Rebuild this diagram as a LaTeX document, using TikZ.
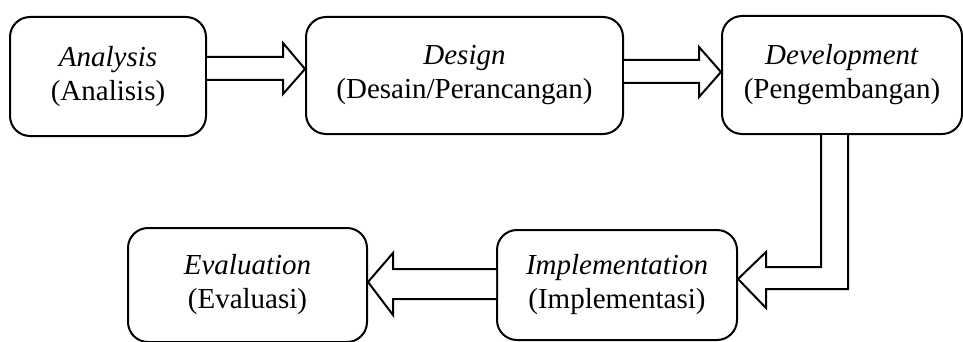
\documentclass[tikz,border=0pt]{standalone}
\usepackage{fontspec}
\setmainfont{Liberation Serif}
\begin{document}
\begin{tikzpicture}[x=1pt,y=-1pt,
  box/.style={draw, line width=2pt, rounded corners=20pt, inner sep=0pt, align=center, font=\fontsize{29}{34}\selectfont},
  blockarrow/.style={draw, line width=2pt, fill=white, line join=miter}]
\useasboundingbox (0,0) rectangle (963,342);
\node[box, minimum width=196pt, minimum height=119pt] (a) at (108,76.5) {\textit{Analysis}\\(Analisis)};
\node[box, minimum width=317pt, minimum height=117pt] (b) at (464.5,75.5) {\textit{Design}\\(Desain/Perancangan)};
\node[box, minimum width=240pt, minimum height=118pt] (c) at (842,75) {\textit{Development}\\(Pengembangan)};
\node[box, minimum width=240pt, minimum height=110pt] (d) at (617,285) {\textit{Implementation}\\(Implementasi)};
\node[box, minimum width=239pt, minimum height=114pt] (e) at (247.5,285) {\textit{Evaluation}\\(Evaluasi)};
\draw[blockarrow] (a.east |- 0,57) -- (283,57) -- (283,43) -- (b.west |- 0,69) -- (283,94) -- (283,80) -- (a.east |- 0,80);
\draw[blockarrow] (b.east |- 0,60) -- (699,60) -- (699,47) -- (c.west |- 0,72) -- (699,97) -- (699,83) -- (b.east |- 0,83);
\draw[blockarrow] (c.south -| 821,0) -- (821,267) -- (766,267) -- (766,252) -- (d.east |- 0,279) -- (766,308) -- (766,289) -- (848,289) -- (c.south -| 848,0);
\draw[blockarrow] (d.west |- 0,269) -- (393,269) -- (393,253) -- (e.east |- 0,282) -- (393,315) -- (393,299) -- (d.west |- 0,299);
\end{tikzpicture}
\end{document}
